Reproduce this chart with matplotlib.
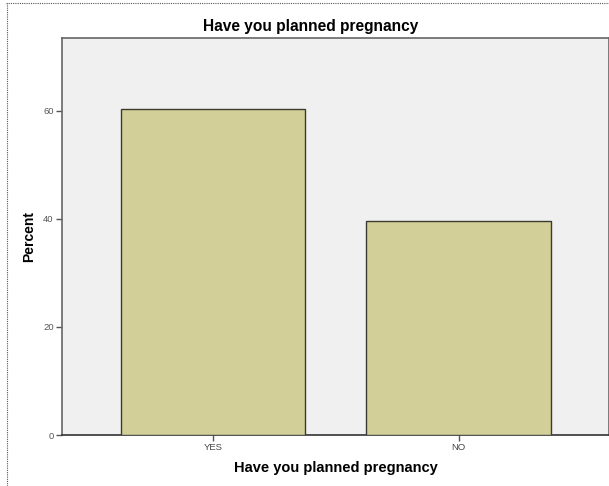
import matplotlib
matplotlib.use("Agg")
import matplotlib.pyplot as plt
from matplotlib.lines import Line2D

categories = ["YES", "NO"]
percent = [60.4, 39.6]
yticks = [0, 20, 40, 60]
title = "Have you planned pregnancy"
xlabel = "Have you planned pregnancy"
ylabel = "Percent"

plt.rcParams['font.family'] = ['Liberation Sans', 'DejaVu Sans']

W, H = 609, 486
fig = plt.figure(figsize=(W/100, H/100), dpi=100)
fig.patch.set_facecolor('white')

left, right, top, bottom = 62, 609, 38, 435
ax = fig.add_axes([left/W, 1 - bottom/H, (right-left)/W, (bottom-top)/H])
ax.set_facecolor('#f0f0f0')

x = list(range(len(categories)))
ax.bar(x, percent, width=0.75, color='#d3cf98', edgecolor='#3a3a30', linewidth=1.0, zorder=3)

ax.set_xlim(-0.614, 1.612)
ax.set_ylim(0, 73.5)
ax.set_xticks(x)
ax.set_xticklabels(categories, fontsize=6.8, color='#444444')
ax.set_yticks(yticks)
ax.set_yticklabels([str(v) for v in yticks], fontsize=6.8, color='#555555')
ax.tick_params(axis='both', direction='out', length=4, width=1.0, color='#555555', pad=2)

for side in ['left', 'top', 'right']:
    ax.spines[side].set_color('#666666')
    ax.spines[side].set_linewidth(1.2)
ax.spines['bottom'].set_color('#333333')
ax.spines['bottom'].set_linewidth(1.2)

ax.set_xlabel(xlabel, fontsize=10.5, fontweight='bold', labelpad=6)
ax.set_ylabel(ylabel, fontsize=10, fontweight='bold', labelpad=5)

fig.text(311/W, 1 - 31.5/H, title, ha='center', va='baseline', fontsize=11.2, fontweight='bold')

# dotted page border
fig.add_artist(Line2D([6/W, 1.0], [1 - 3.5/H, 1 - 3.5/H], transform=fig.transFigure,
                      color='#555555', linestyle=(0, (1, 1)), linewidth=0.8))
fig.add_artist(Line2D([6.5/W, 6.5/W], [0.0, 1 - 3.5/H], transform=fig.transFigure,
                      color='#555555', linestyle=(0, (1, 1)), linewidth=0.8))

fig.savefig('out.png', dpi=100)
